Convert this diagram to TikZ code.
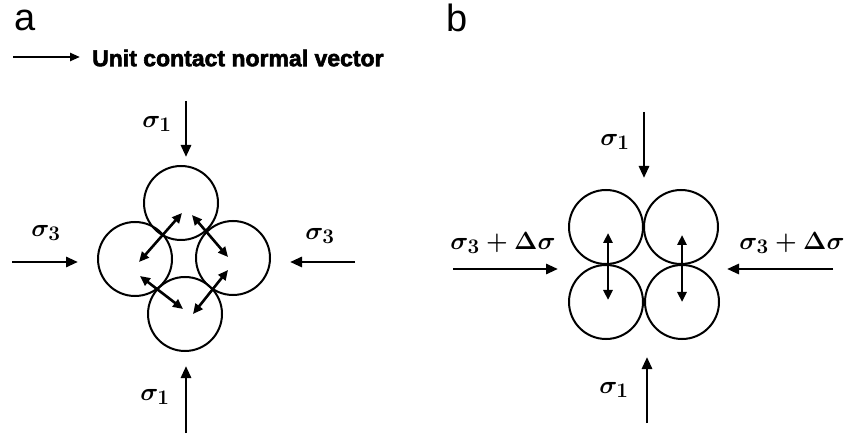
\documentclass[tikz,border=0pt]{standalone}
\usepackage{fontspec}
\newfontfamily\panelfont{Liberation Sans}
\newfontfamily\keyfont{Liberation Sans}[BoldFeatures={FakeBold=2.5}]
\usetikzlibrary{arrows.meta}

\tikzset{
  grain/.style={draw, circle, line width=2pt, minimum size=74pt, inner sep=0pt},
  load/.style={-{Triangle[length=12pt,width=10pt]}, line width=2.8pt},
  contact/.style={{Triangle[length=10pt,width=9pt]}-{Triangle[length=10pt,width=9pt]}, line width=2.6pt},
  stress/.style={inner sep=0pt, font=\fontsize{24.88}{28}\selectfont\boldmath},
  panel/.style={inner sep=0pt, font=\panelfont\fontsize{38}{38}\selectfont}
}

\begin{document}
\begin{tikzpicture}[x=1pt, y=-1pt]
  \useasboundingbox (0,0) rectangle (851,435);

  % panel letters
  \node[panel] (pa) at (25,20) {a};
  \node[panel] (pb) at (457,18) {b};

  % legend
  \coordinate (keyS) at (13,57);
  \coordinate (keyE) at (80,57);
  \draw[-{Triangle[length=10pt,width=8pt]}, line width=2.4pt] (keyS) -- (keyE);
  \node[anchor=west, inner sep=0pt, font=\keyfont\bfseries\fontsize{23}{25}\selectfont] (key) at (92,58) {Unit contact normal vector};

  % (a) four grains in a diamond
  \node[grain] (aT) at (181,203) {};
  \node[grain] (aL) at (135,259) {};
  \node[grain] (aR) at (233,258) {};
  \node[grain] (aB) at (185,314) {};

  % contact normals
  \coordinate (tl1) at (182,213); \coordinate (tl2) at (139,262);
  \coordinate (tr1) at (192,215); \coordinate (tr2) at (228,257);
  \coordinate (bl1) at (140,276); \coordinate (bl2) at (183,309);
  \coordinate (br1) at (228,270); \coordinate (br2) at (193,314);
  \draw[contact] (tl1) -- (tl2);
  \draw[contact] (tr1) -- (tr2);
  \draw[contact] (bl1) -- (bl2);
  \draw[contact] (br1) -- (br2);

  % loads on (a)
  \coordinate (aN0) at (186,101); \coordinate (aN1) at (186,157);
  \coordinate (aS0) at (186,433); \coordinate (aS1) at (186,366);
  \coordinate (aW0) at (12,262);  \coordinate (aW1) at (78,262);
  \coordinate (aE0) at (355,262); \coordinate (aE1) at (290,262);
  \draw[load] (aN0) -- (aN1);
  \draw[load] (aS0) -- (aS1);
  \draw[load] (aW0) -- (aW1);
  \draw[load] (aE0) -- (aE1);
  \node[stress] (sa1) at (157,124) {$\sigma_1$};
  \node[stress] (sa2) at (155,397) {$\sigma_1$};
  \node[stress] (sa3) at (46,233) {$\sigma_3$};
  \node[stress] (sa4) at (320,236) {$\sigma_3$};

  % (b) four grains in a square
  \node[grain] (bTL) at (606,227) {};
  \node[grain] (bTR) at (681,227) {};
  \node[grain] (bBL) at (606,302) {};
  \node[grain] (bBR) at (682,302) {};

  % contact normals
  \coordinate (v1) at (608,233); \coordinate (v2) at (608,300);
  \coordinate (w1) at (682,235); \coordinate (w2) at (682,302);
  \draw[contact] (v1) -- (v2);
  \draw[contact] (w1) -- (w2);

  % loads on (b)
  \coordinate (bN0) at (644,112); \coordinate (bN1) at (644,178);
  \coordinate (bS0) at (647,423); \coordinate (bS1) at (647,357);
  \coordinate (bW0) at (453,269); \coordinate (bW1) at (558,269);
  \coordinate (bE0) at (833,269); \coordinate (bE1) at (727,269);
  \draw[load] (bN0) -- (bN1);
  \draw[load] (bS0) -- (bS1);
  \draw[load] (bW0) -- (bW1);
  \draw[load] (bE0) -- (bE1);
  \node[stress] (sb1) at (615,142) {$\sigma_1$};
  \node[stress] (sb2) at (614,390) {$\sigma_1$};
  \node[stress] (sb3) at (503,243) {$\sigma_3+\Delta\sigma$};
  \node[stress] (sb4) at (792,243) {$\sigma_3+\Delta\sigma$};
\end{tikzpicture}
\end{document}
